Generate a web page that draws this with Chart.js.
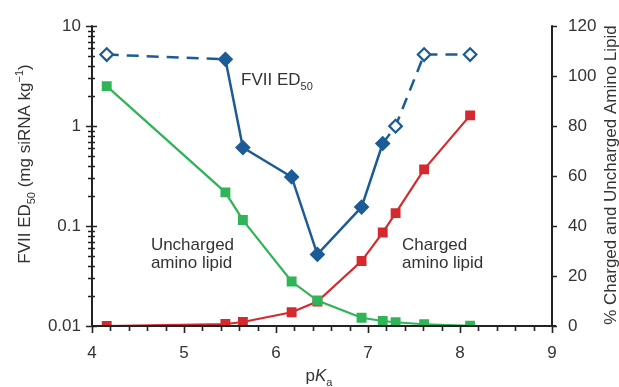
<!DOCTYPE html>
<html><head><meta charset="utf-8">
<script src="https://cdn.jsdelivr.net/npm/chart.js@4/dist/chart.umd.min.js"></script>
<style>html,body{margin:0;padding:0;background:#fff;} #wrap{width:619px;height:387px;position:relative;}</style>
</head><body><div id="wrap"><canvas id="c"></canvas></div>
<script>
// ---- data ----
const pKa = [4.16, 5.45, 5.64, 6.17, 6.45, 6.93, 7.16, 7.30, 7.61, 8.11];
const fviiED50 = [5.2, 4.66, 0.61, 0.31, 0.052, 0.155, 0.67, 1.0, 5.2, 5.2];
const fviiOpen = [true, false, false, false, false, false, false, true, true, true];
const fviiDashedFrom = [0, 6, 7, 8];
const unchargedPct = [96, 53.5, 42.4, 17.8, 10.2, 3.3, 2.0, 1.5, 0.7, 0.1];
const chargedPct = [0, 0.8, 1.6, 5.5, 9.8, 26, 37.4, 45.2, 62.7, 84.3];
const xTickValues = [4, 5, 6, 7, 8, 9];
const logTickValues = [0.01, 0.1, 1, 10];
const pctTickValues = [0, 20, 40, 60, 80, 100, 120];

const BLUE = '#1b5c96', GREEN = '#2fb457', RED = '#d42a2e', TXT = '#333333', AX = '#222222';
const FONT = '"Liberation Sans", Arial, sans-serif';

const pts = (ys) => ys.map((y, i) => ({x: pKa[i], y}));

function drawRich(ctx, parts, size) {
  let w = 0;
  const items = parts.map(p => {
    const fs = (p.sub || p.sup) ? Math.round(size * 0.65) : size;
    const f = (p.italic ? 'italic ' : '') + fs + 'px ' + FONT;
    ctx.font = f;
    const mw = ctx.measureText(p.t).width;
    const it = {t: p.t, f, w: mw, dy: p.sub ? size * 0.3 : (p.sup ? -size * 0.42 : 0)};
    w += mw;
    return it;
  });
  return {items, w};
}
function paintRich(ctx, rich, x, y) {
  let cx = x;
  ctx.textAlign = 'left';
  ctx.textBaseline = 'alphabetic';
  rich.items.forEach(it => { ctx.font = it.f; ctx.fillText(it.t, cx, y + it.dy); cx += it.w; });
}

const decor = {
  id: 'decor',
  afterDraw(chart) {
    const ctx = chart.ctx, a = chart.chartArea;
    const xs = chart.scales.x, yl = chart.scales.y, yr = chart.scales.y1;
    ctx.save();
    ctx.strokeStyle = AX; ctx.lineWidth = 2;
    ctx.beginPath();
    ctx.moveTo(a.left, a.top - 1); ctx.lineTo(a.left, a.bottom);
    ctx.moveTo(a.left - 1, a.bottom); ctx.lineTo(a.right + 4, a.bottom);
    ctx.moveTo(a.right, a.top - 1); ctx.lineTo(a.right, a.bottom);
    ctx.stroke();
    ctx.lineWidth = 1.6;
    ctx.beginPath();
    for (let v = xs.min; v <= xs.max + 1e-9; v += 0.2) {
      const px = Math.round(xs.getPixelForValue(v)) + 0.5;
      const major = Math.abs(v - Math.round(v)) < 1e-6;
      ctx.moveTo(px, a.bottom); ctx.lineTo(px, a.bottom + (major ? 7 : 5));
    }
    for (let e = -2; e <= 1; e++) {
      for (let m = 1; m <= 9; m++) {
        const v = m * Math.pow(10, e);
        if (v > yl.max * 1.0001) break;
        const py = Math.round(yl.getPixelForValue(v)) + 0.5;
        if (m === 1) { ctx.moveTo(a.left - 6, py); ctx.lineTo(a.left + 5, py); }
        else { ctx.moveTo(a.left - 4, py); ctx.lineTo(a.left + 3, py); }
      }
    }
    pctTickValues.forEach(v => {
      const py = Math.round(yr.getPixelForValue(v)) + 0.5;
      ctx.moveTo(a.right, py); ctx.lineTo(a.right + 5, py);
    });
    ctx.stroke();

    ctx.fillStyle = TXT;
    const lt = drawRich(ctx, [{t: 'FVII ED'}, {t: '50', sub: true}, {t: ' (mg siRNA kg'}, {t: '\u22121', sup: true}, {t: ')'}], 17);
    ctx.save(); ctx.translate(30, 164); ctx.rotate(-Math.PI / 2); paintRich(ctx, lt, -lt.w / 2, 0); ctx.restore();
    const rt = drawRich(ctx, [{t: '% Charged and Uncharged Amino Lipid'}], 17);
    ctx.save(); ctx.translate(616, 175); ctx.rotate(-Math.PI / 2); paintRich(ctx, rt, -rt.w / 2, 0); ctx.restore();
    const xt = drawRich(ctx, [{t: 'p'}, {t: 'K', italic: true}, {t: 'a', sub: true}], 17);
    paintRich(ctx, xt, (a.left + a.right) / 2 - xt.w / 2 - 3, 381);
    const ann1 = drawRich(ctx, [{t: 'FVII ED'}, {t: '50', sub: true}], 17);
    paintRich(ctx, ann1, xs.getPixelForValue(5.62), yr.getPixelForValue(96.5));
    ctx.font = '17px ' + FONT; ctx.textAlign = 'left'; ctx.textBaseline = 'alphabetic';
    const ux = xs.getPixelForValue(4.64), cx = xs.getPixelForValue(7.37);
    const l1 = yr.getPixelForValue(30.6), l2 = yr.getPixelForValue(23.2);
    ctx.fillText('Uncharged', ux, l1); ctx.fillText('amino lipid', ux, l2);
    ctx.fillText('Charged', cx, l1); ctx.fillText('amino lipid', cx, l2);
    ctx.restore();
  }
};

new Chart(document.getElementById('c'), {
  type: 'line',
  data: {
    datasets: [
      {
        label: 'FVII ED50', data: pts(fviiED50), yAxisID: 'y',
        borderColor: BLUE, borderWidth: 2.5,
        pointStyle: 'rectRot', pointRadius: 6.3, pointHoverRadius: 6.3,
        pointBorderColor: BLUE, pointBorderWidth: 2.2,
        pointBackgroundColor: fviiOpen.map(o => o ? '#ffffff' : BLUE),
        segment: { borderDash: c => fviiDashedFrom.includes(c.p0DataIndex) ? [12, 8] : undefined },
        tension: 0
      },
      {
        label: 'Uncharged amino lipid', data: pts(unchargedPct), yAxisID: 'y1',
        borderColor: GREEN, borderWidth: 2.2, pointStyle: 'rect', pointRadius: 7, pointHoverRadius: 7,
        pointBackgroundColor: GREEN, pointBorderColor: GREEN, pointBorderWidth: 0, tension: 0
      },
      {
        label: 'Charged amino lipid', data: pts(chargedPct), yAxisID: 'y1',
        borderColor: RED, borderWidth: 2.2, pointStyle: 'rect', pointRadius: 7, pointHoverRadius: 7,
        pointBackgroundColor: RED, pointBorderColor: RED, pointBorderWidth: 0, tension: 0
      }
    ]
  },
  options: {
    responsive: true, maintainAspectRatio: false, animation: false,
    layout: { padding: { top: 21, left: 0, right: 0, bottom: 0 } },
    plugins: { legend: { display: false }, tooltip: { enabled: false } },
    events: [],
    scales: {
      x: {
        type: 'linear', min: 4, max: 9,
        afterBuildTicks: s => { s.ticks = xTickValues.map(v => ({value: v})); },
        afterFit: s => { s.height = 61; },
        grid: { display: false, drawTicks: false }, border: { display: false },
        ticks: { padding: 17, color: TXT, font: { size: 17, family: FONT }, maxRotation: 0, callback: v => String(v) }
      },
      y: {
        type: 'logarithmic', position: 'left', min: 0.01, max: 10,
        afterBuildTicks: s => { s.ticks = logTickValues.map(v => ({value: v})); },
        afterFit: s => { s.width = 92; },
        grid: { display: false, drawTicks: false }, border: { display: false },
        ticks: { padding: 11, color: TXT, font: { size: 17, family: FONT }, callback: v => String(v) }
      },
      y1: {
        type: 'linear', position: 'right', min: 0, max: 120,
        afterBuildTicks: s => { s.ticks = pctTickValues.map(v => ({value: v})); },
        afterFit: s => { s.width = 67; },
        grid: { display: false, drawTicks: false }, border: { display: false },
        ticks: { padding: 16, color: TXT, font: { size: 17, family: FONT }, callback: v => String(v) }
      }
    }
  },
  plugins: [decor]
});
</script>
</body></html>
